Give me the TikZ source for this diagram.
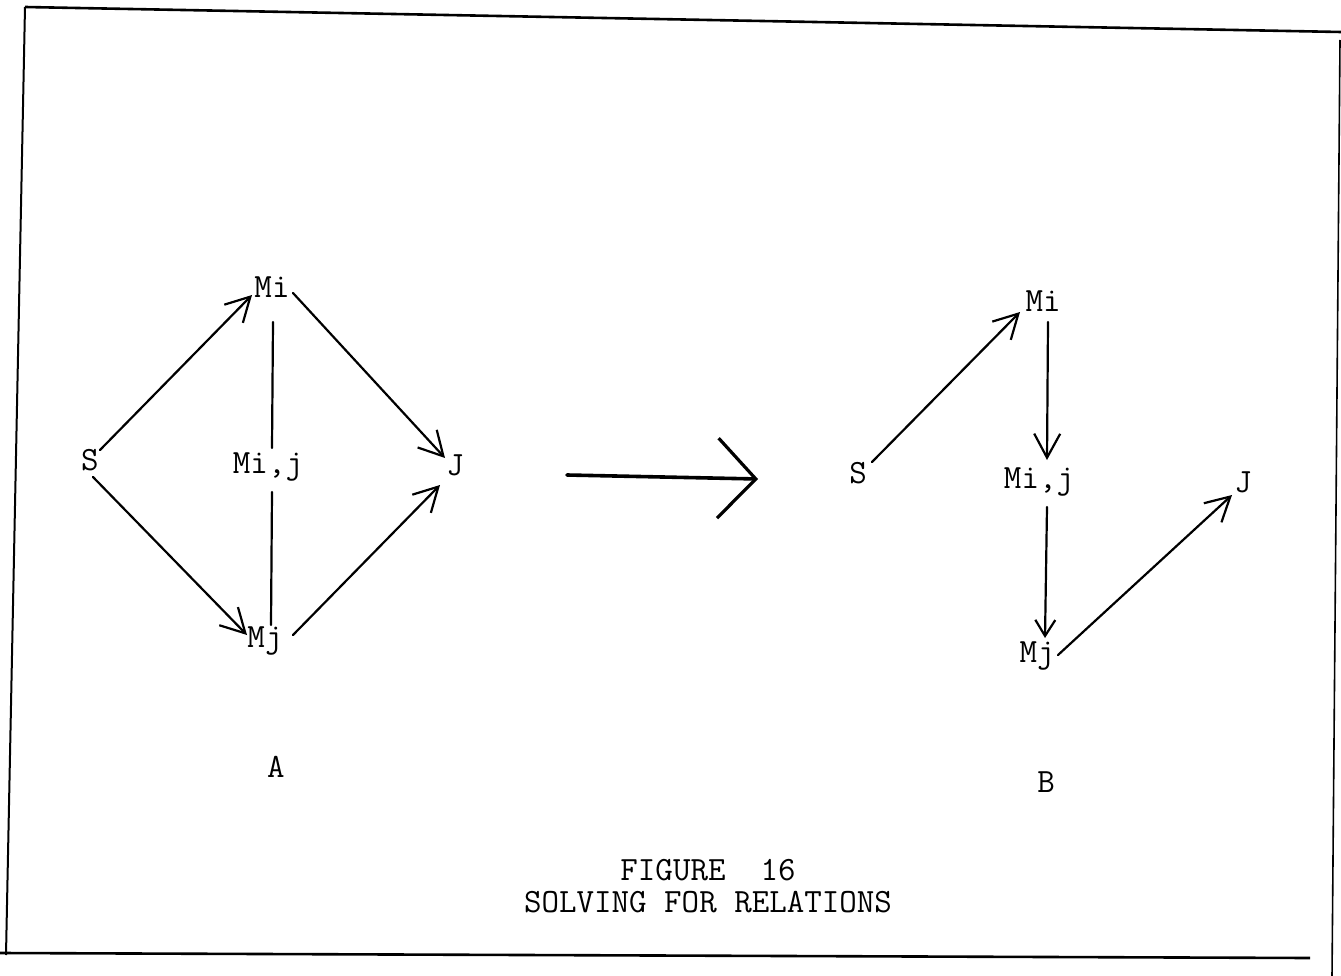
\documentclass[tikz,border=0pt]{standalone}
\usepackage{fontspec}
\usetikzlibrary{arrows.meta,calc}
\tikzset{
  lbl/.style={font=\ttfamily\fontsize{34}{36}\selectfont, inner sep=0pt, anchor=base},
  edge/.style={line width=2.2pt, line cap=round},
  arr/.style={edge, -{Straight Barb[length=24pt,width=26pt,line width=2.2pt]}},
  arrsmall/.style={edge, -{Straight Barb[length=16pt,width=20pt,line width=2.2pt]}},
  bigarr/.style={line width=3.6pt, line cap=round, -{Straight Barb[length=38pt,width=80pt,line width=3.2pt]}},
  frame/.style={line width=2pt},
}
\begin{document}
\begin{tikzpicture}[x=1pt,y=-1pt]
\useasboundingbox (0,0) rectangle (1341,976);
% frame
\draw[frame, line width=2.6pt] (25,7) -- (1341,32);
\draw[frame] (25,7) -- (6,955);
\draw[frame, line width=2.6pt] (0,953) -- (1310,958);
\draw[frame, line width=1.6pt] (1340,40) -- (1332,976);

% diagram A
\node[lbl] (aS)  at (90,470)  {S};
\node[lbl] (aMi) at (272,298) {Mi};
\node[lbl] (aMij) at (268,473) {Mi,j};
\node[lbl] (aJ)  at (455,475) {J};
\node[lbl] (aMj) at (265,647) {Mj};
\draw[arr] ($(aS.base)+(10,-20)$) -- ($(aMi.base)+(-20,-3)$);
\draw[arr] ($(aMi.base)+(21,-5)$) -- ($(aJ.base)+(-10,-17)$);
\draw[edge] ($(aMi.base)+(1,24)$) -- ($(aMij.base)+(4,-25)$);
\draw[edge] ($(aMij.base)+(4,19)$) -- ($(aMj.base)+(6,-22)$);
\draw[arr] ($(aS.base)+(3,7)$) -- ($(aMj.base)+(-18,-12)$);
\draw[arr] ($(aMj.base)+(28,-12)$) -- ($(aJ.base)+(-15,10)$);
\node[lbl] (labA) at (276,777) {A};

% big arrow
\coordinate (bigL) at (567,475);
\coordinate (bigR) at (758,479);
\draw[bigarr] (bigL) -- (bigR);

% diagram B
\node[lbl] (bS)  at (858,483)  {S};
\node[lbl] (bMi) at (1043,312) {Mi};
\node[lbl] (bMij) at (1039,488) {Mi,j};
\node[lbl] (bJ)  at (1243,492) {J};
\node[lbl] (bMj) at (1037,662) {Mj};
\draw[arr] ($(bS.base)+(14,-21)$) -- ($(bMi.base)+(-23,0)$);
\draw[arr] ($(bMi.base)+(5,10)$) -- ($(bMij.base)+(8,-28)$);
\draw[arrsmall] ($(bMij.base)+(8,19)$) -- ($(bMj.base)+(8,-24)$);
\draw[arr] ($(bMj.base)+(21,-7)$) -- ($(bJ.base)+(-11,3)$);
\node[lbl] (labB) at (1046,792) {B};

% caption
\node[lbl] (cap1) at (708,880) {FIGURE\ \ 16};
\node[lbl] (cap2) at (708,912) {SOLVING FOR RELATIONS};
\end{tikzpicture}
\end{document}
